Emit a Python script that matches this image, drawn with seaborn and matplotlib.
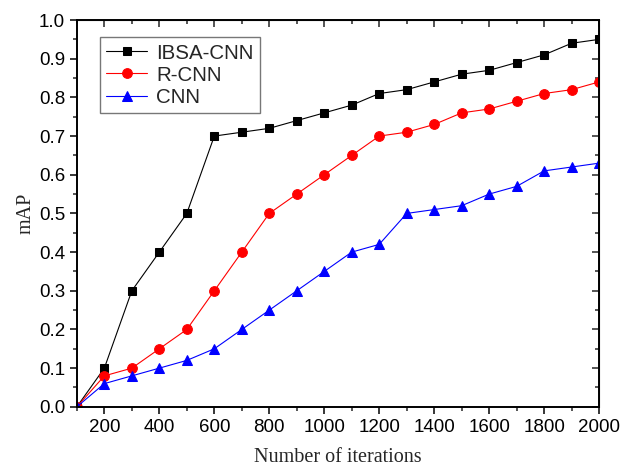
import numpy as np
import pandas as pd
import matplotlib
matplotlib.use("Agg")
import matplotlib.pyplot as plt
from matplotlib.ticker import MultipleLocator, FormatStrFormatter
import seaborn as sns

iterations = list(range(100, 2001, 100))
ibsa_cnn = [0.0, 0.10, 0.30, 0.40, 0.50, 0.70, 0.71, 0.72, 0.74, 0.76,
            0.78, 0.81, 0.82, 0.84, 0.86, 0.87, 0.89, 0.91, 0.94, 0.95]
r_cnn = [0.0, 0.08, 0.10, 0.15, 0.20, 0.30, 0.40, 0.50, 0.55, 0.60,
         0.65, 0.70, 0.71, 0.73, 0.76, 0.77, 0.79, 0.81, 0.82, 0.84]
cnn = [0.0, 0.06, 0.08, 0.10, 0.12, 0.15, 0.20, 0.25, 0.30, 0.35,
       0.40, 0.42, 0.50, 0.51, 0.52, 0.55, 0.57, 0.61, 0.62, 0.63]
series_names = ["IBSA-CNN", "R-CNN", "CNN"]

sns.set_style("ticks")
plt.rcParams["font.family"] = ["Liberation Sans", "DejaVu Sans"]

df = pd.DataFrame({
    "iter": iterations * 3,
    "mAP": ibsa_cnn + r_cnn + cnn,
    "model": sum([[n] * len(iterations) for n in series_names], []),
})

fig = plt.figure(figsize=(6.3, 4.66), dpi=100)
ax = fig.add_axes([0.122, 0.127, 0.829, 0.830])

styles = {
    "IBSA-CNN": dict(color="black", marker="s", ms=6),
    "R-CNN": dict(color="red", marker="o", ms=7),
    "CNN": dict(color="blue", marker="^", ms=7.5),
}
for name in series_names:
    st = styles[name]
    sub = df[df["model"] == name]
    sns.lineplot(data=sub, x="iter", y="mAP", ax=ax, color=st["color"],
                 lw=0.8, marker=st["marker"], markersize=st["ms"],
                 markeredgecolor=st["color"], markerfacecolor=st["color"],
                 label=name)

ax.set_xlim(100, 2000)
ax.set_ylim(0, 1.0)
ax.set_xticks(range(200, 2001, 200))
ax.xaxis.set_minor_locator(MultipleLocator(100))
ax.yaxis.set_major_locator(MultipleLocator(0.1))
ax.yaxis.set_minor_locator(MultipleLocator(0.05))
ax.yaxis.set_major_formatter(FormatStrFormatter("%.1f"))

for side in ["top", "right", "left", "bottom"]:
    ax.spines[side].set_visible(True)
    ax.spines[side].set_linewidth(1.4)
    ax.spines[side].set_color("black")

ax.tick_params(axis="both", which="major", direction="out", length=5,
               width=1.1, labelsize=13.5, colors="black")
ax.tick_params(axis="both", which="minor", direction="out", length=3, width=1.1)

# mirrored inward ticks on top and right
top = ax.secondary_xaxis("top")
top.set_xticks(range(200, 2001, 200))
top.xaxis.set_minor_locator(MultipleLocator(100))
top.tick_params(which="major", direction="in", length=5, width=1.1)
top.tick_params(which="minor", direction="in", length=3, width=1.1)
top.set_xticklabels([])
right = ax.secondary_yaxis("right")
right.yaxis.set_major_locator(MultipleLocator(0.1))
right.yaxis.set_minor_locator(MultipleLocator(0.05))
right.tick_params(which="major", direction="in", length=5, width=1.1)
right.tick_params(which="minor", direction="in", length=3, width=1.1)
right.set_yticklabels([])

ax.set_xlabel("Number of iterations", family="Liberation Serif", fontsize=14.5,
              labelpad=9)
ax.set_ylabel("mAP", family="Liberation Serif", fontsize=14.5, labelpad=2)

leg = ax.legend(loc="upper left", bbox_to_anchor=(0.044, 0.955), fontsize=14.8,
                frameon=True, fancybox=False, edgecolor="#555555",
                handlelength=2.0, handletextpad=0.45, borderpad=0.3,
                labelspacing=0.15, borderaxespad=0)
leg.get_frame().set_linewidth(1.0)

fig.savefig("out.png", dpi=100)
